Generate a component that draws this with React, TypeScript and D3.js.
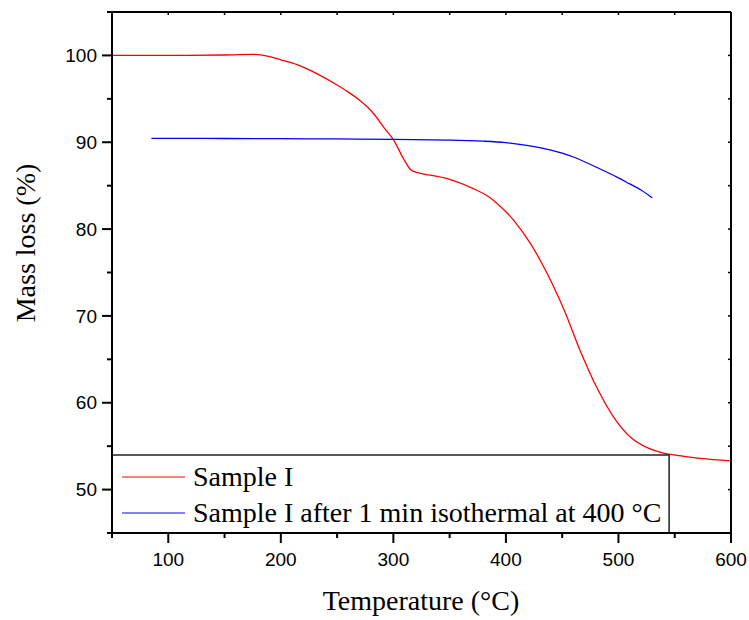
import React from "react";
import * as d3 from "d3";

const redTemps = [50, 100, 150, 180, 190, 200, 215, 232, 250, 262, 270, 277, 284, 291, 300, 309, 315, 318, 325, 348, 372, 385, 400, 407, 422, 437, 452, 466, 481, 496, 511, 526, 540, 560, 580, 600];
const redMass = [100.0, 100.0, 100.05, 100.1, 99.85, 99.5, 98.9, 97.9, 96.6, 95.6, 94.85, 94.05, 93.05, 91.8, 90.3, 88.1, 86.9, 86.65, 86.4, 85.8, 84.6, 83.7, 82.0, 81.0, 78.3, 74.8, 70.6, 66.0, 61.7, 58.3, 56.0, 54.8, 54.2, 53.8, 53.5, 53.3];

const blueTemps = [85, 100, 150, 200, 250, 300, 350, 380, 400, 420, 440, 450, 460, 480, 500, 510, 520, 530];
const blueMass = [90.45, 90.45, 90.43, 90.41, 90.38, 90.33, 90.25, 90.12, 89.95, 89.6, 89.1, 88.75, 88.3, 87.15, 85.9, 85.2, 84.5, 83.6];

const xMajorTicks = [100, 200, 300, 400, 500, 600];
const xMinorTicks = [50, 150, 250, 350, 450, 550];
const yMajorTicks = [50, 60, 70, 80, 90, 100];
const yMinorTicks = [45, 55, 65, 75, 85, 95, 105];

const legendLabels = ["Sample I", "Sample I after 1 min isothermal at 400 °C"];
const seriesColors = ["#ff0000", "#0000ff"];

export default function App() {
  const left = 112, right = 731, top = 12, bottom = 533;
  const x = d3.scaleLinear().domain([50, 600]).range([left, right]);
  const y = d3.scaleLinear().domain([45, 105]).range([bottom, top]);
  const line = d3
    .line<[number, number]>()
    .x((d) => x(d[0]))
    .y((d) => y(d[1]))
    .curve(d3.curveCatmullRom.alpha(0.5));
  const red = redTemps.map((t, i) => [t, redMass[i]] as [number, number]);
  const blue = blueTemps.map((t, i) => [t, blueMass[i]] as [number, number]);
  const sans = "'Liberation Sans', Arial, sans-serif";
  const serif = "'Liberation Serif', 'Times New Roman', serif";
  const legX1 = left, legX2 = x(545), legY1 = 455, legY2 = bottom;

  return (
    <svg width={749} height={620} style={{ position: "absolute", left: 0, top: 0, background: "#fff" }}>
      <rect x={0} y={0} width={749} height={620} fill="#fff" />
      <path d={line(red) || ""} fill="none" stroke={seriesColors[0]} strokeWidth={1.3} />
      <path d={line(blue) || ""} fill="none" stroke={seriesColors[1]} strokeWidth={1.3} />

      {/* legend */}
      <rect x={legX1} y={legY1} width={legX2 - legX1} height={legY2 - legY1} fill="#fff" stroke="#222" strokeWidth={1.5} />
      {legendLabels.map((lab, i) => {
        const ly = i === 0 ? 477 : 513;
        return (
          <g key={lab}>
            <line x1={122} x2={185} y1={ly} y2={ly} stroke={seriesColors[i]} strokeWidth={1.2} />
            <text x={193} y={ly + 9} fontFamily={serif} fontSize={28} fill="#000">
              {lab}
            </text>
          </g>
        );
      })}

      {/* frame */}
      <line x1={left} x2={right} y1={top} y2={top} stroke="#000" strokeWidth={2} />
      <line x1={left} x2={right} y1={bottom} y2={bottom} stroke="#000" strokeWidth={2} />
      <line x1={left} x2={left} y1={top} y2={bottom} stroke="#000" strokeWidth={2} />
      <line x1={right} x2={right} y1={top} y2={bottom} stroke="#000" strokeWidth={2} />

      {/* x ticks */}
      {xMajorTicks.map((t) => (
        <g key={"xM" + t}>
          <line x1={x(t)} x2={x(t)} y1={bottom} y2={bottom + 10} stroke="#000" strokeWidth={2} />
          <line x1={x(t)} x2={x(t)} y1={top} y2={top + 3} stroke="#000" strokeWidth={1.5} />
          <text x={x(t)} y={565.5} textAnchor="middle" fontFamily={sans} fontSize={19} fill="#000">
            {t}
          </text>
        </g>
      ))}
      {xMinorTicks.map((t) => (
        <g key={"xm" + t}>
          <line x1={x(t)} x2={x(t)} y1={bottom} y2={bottom + 5} stroke="#000" strokeWidth={2} />
          <line x1={x(t)} x2={x(t)} y1={top} y2={top + 3} stroke="#000" strokeWidth={1.5} />
        </g>
      ))}

      {/* y ticks */}
      {yMajorTicks.map((t) => (
        <g key={"yM" + t}>
          <line x1={left - 10} x2={left} y1={y(t)} y2={y(t)} stroke="#000" strokeWidth={2} />
          <line x1={right - 3} x2={right} y1={y(t)} y2={y(t)} stroke="#000" strokeWidth={1.5} />
          <text x={97} y={y(t) + 6.7} textAnchor="end" fontFamily={sans} fontSize={19} fill="#000">
            {t}
          </text>
        </g>
      ))}
      {yMinorTicks.map((t) => (
        <g key={"ym" + t}>
          <line x1={left - 5} x2={left} y1={y(t)} y2={y(t)} stroke="#000" strokeWidth={2} />
          <line x1={right - 3} x2={right} y1={y(t)} y2={y(t)} stroke="#000" strokeWidth={1.5} />
        </g>
      ))}

      {/* axis titles */}
      <text x={421} y={610} textAnchor="middle" fontFamily={serif} fontSize={28} fill="#000">
        Temperature (°C)
      </text>
      <text
        transform={`translate(35, 243) rotate(-90)`}
        textAnchor="middle"
        fontFamily={serif}
        fontSize={28}
        fill="#000"
      >
        Mass loss (%)
      </text>
    </svg>
  );
}
